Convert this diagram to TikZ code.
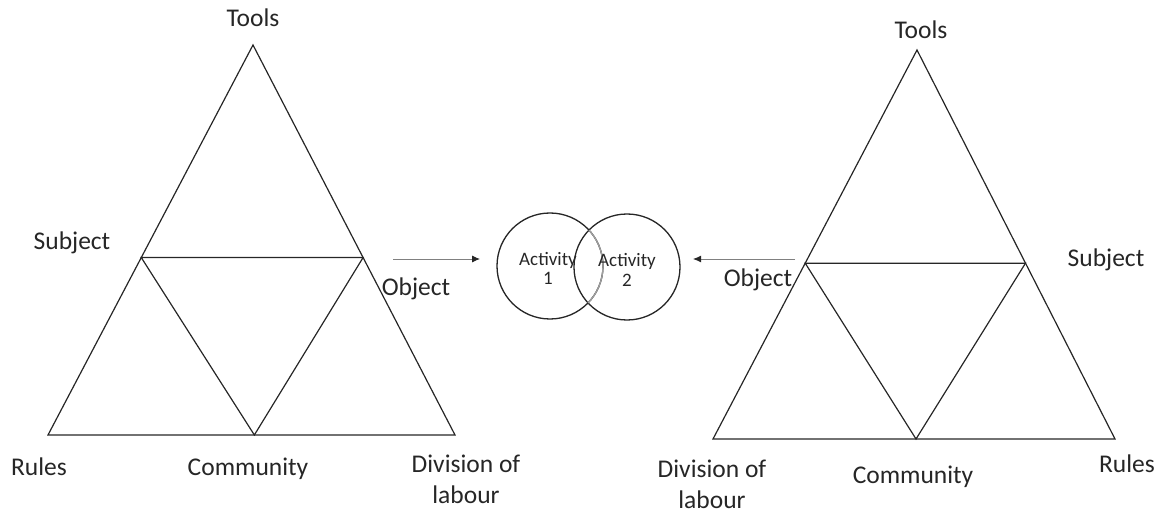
\documentclass[tikz,border=0pt]{standalone}
\usepackage{fontspec}
\setmainfont{Carlito}
\usetikzlibrary{arrows.meta}
\usetikzlibrary{calc}

\tikzset{
	edge/.style={line width=1.2pt, black!85},
	lbl/.style={font=\fontsize{25.5}{31}\selectfont, inner sep=0pt, anchor=base, text=black!85, align=center},
	activity/.style={circle, draw=black!85, line width=1.3pt, minimum size=106pt, inner sep=0pt},
	actlbl/.style={font=\fontsize{19}{20}\selectfont, inner sep=0pt, anchor=base, text=black!85, align=center},
	flow/.style={line width=0.9pt, gray, -{Latex[length=8pt,width=7pt,black!85]}}
}

\begin{document}
\begin{tikzpicture}[x=1pt,y=-1pt]
	\useasboundingbox (0,0) rectangle (1168,513);

	%Left triangle
	\coordinate (lT) at (253,45);
	\coordinate (lR) at (48,435);
	\coordinate (lD) at (455,435);
	\coordinate (lS) at ($(lT)!0.545!(lR)$);
	\coordinate (lO) at ($(lT)!0.545!(lD)$);
	\coordinate (lC) at ($(lR)!0.507!(lD)$);
	\draw[edge] (lT) -- (lD) -- (lR) -- cycle;
	\draw[edge] (lS) -- (lO) -- (lC) -- cycle;

	\node[lbl] (lTools) at (253,27) {Tools};
	\node[lbl] (lSubj) at (72,250) {Subject};
	\node[lbl] (lObj) at (416,295) {Object};
	\node[lbl] (lRules) at (39,475) {Rules};
	\node[lbl] (lComm) at (248,475) {Community};
	\node[lbl] (lDiv) at (466,503) {Division of\\labour};

	%Right triangle
	\coordinate (rT) at (917,50);
	\coordinate (rD) at (713,439);
	\coordinate (rR) at (1115,439);
	\coordinate (rO) at ($(rT)!0.548!(rD)$);
	\coordinate (rS) at ($(rT)!0.548!(rR)$);
	\coordinate (rC) at ($(rD)!0.505!(rR)$);
	\draw[edge] (rT) -- (rR) -- (rD) -- cycle;
	\draw[edge] (rO) -- (rS) -- (rC) -- cycle;

	\node[lbl] (rTools) at (921,39) {Tools};
	\node[lbl] (rSubj) at (1106,267) {Subject};
	\node[lbl] (rObj) at (758,287) {Object};
	\node[lbl] (rRules) at (1127,472) {Rules};
	\node[lbl] (rComm) at (913,483) {Community};
	\node[lbl] (rDiv) at (712,508) {Division of\\labour};

	%Activities
	\node[activity] (act1) at (550,266) {};
	\node[activity] (act2) at (627,267) {};
	\begin{scope}
		\clip (act2) circle (53pt);
		\draw[gray!75, line width=1.3pt] (act1) circle (53pt);
	\end{scope}
	\node[actlbl] (act1txt) at (548,285) {Activity\\1};
	\node[actlbl] (act2txt) at (627,287) {Activity\\2};

	\coordinate (flowL) at (393,259);
	\coordinate (flowLend) at (480,259);
	\coordinate (flowR) at (795,259);
	\coordinate (flowRend) at (693,259);
	\draw[flow] (flowL) -- (flowLend);
	\draw[flow] (flowR) -- (flowRend);
\end{tikzpicture}
\end{document}
